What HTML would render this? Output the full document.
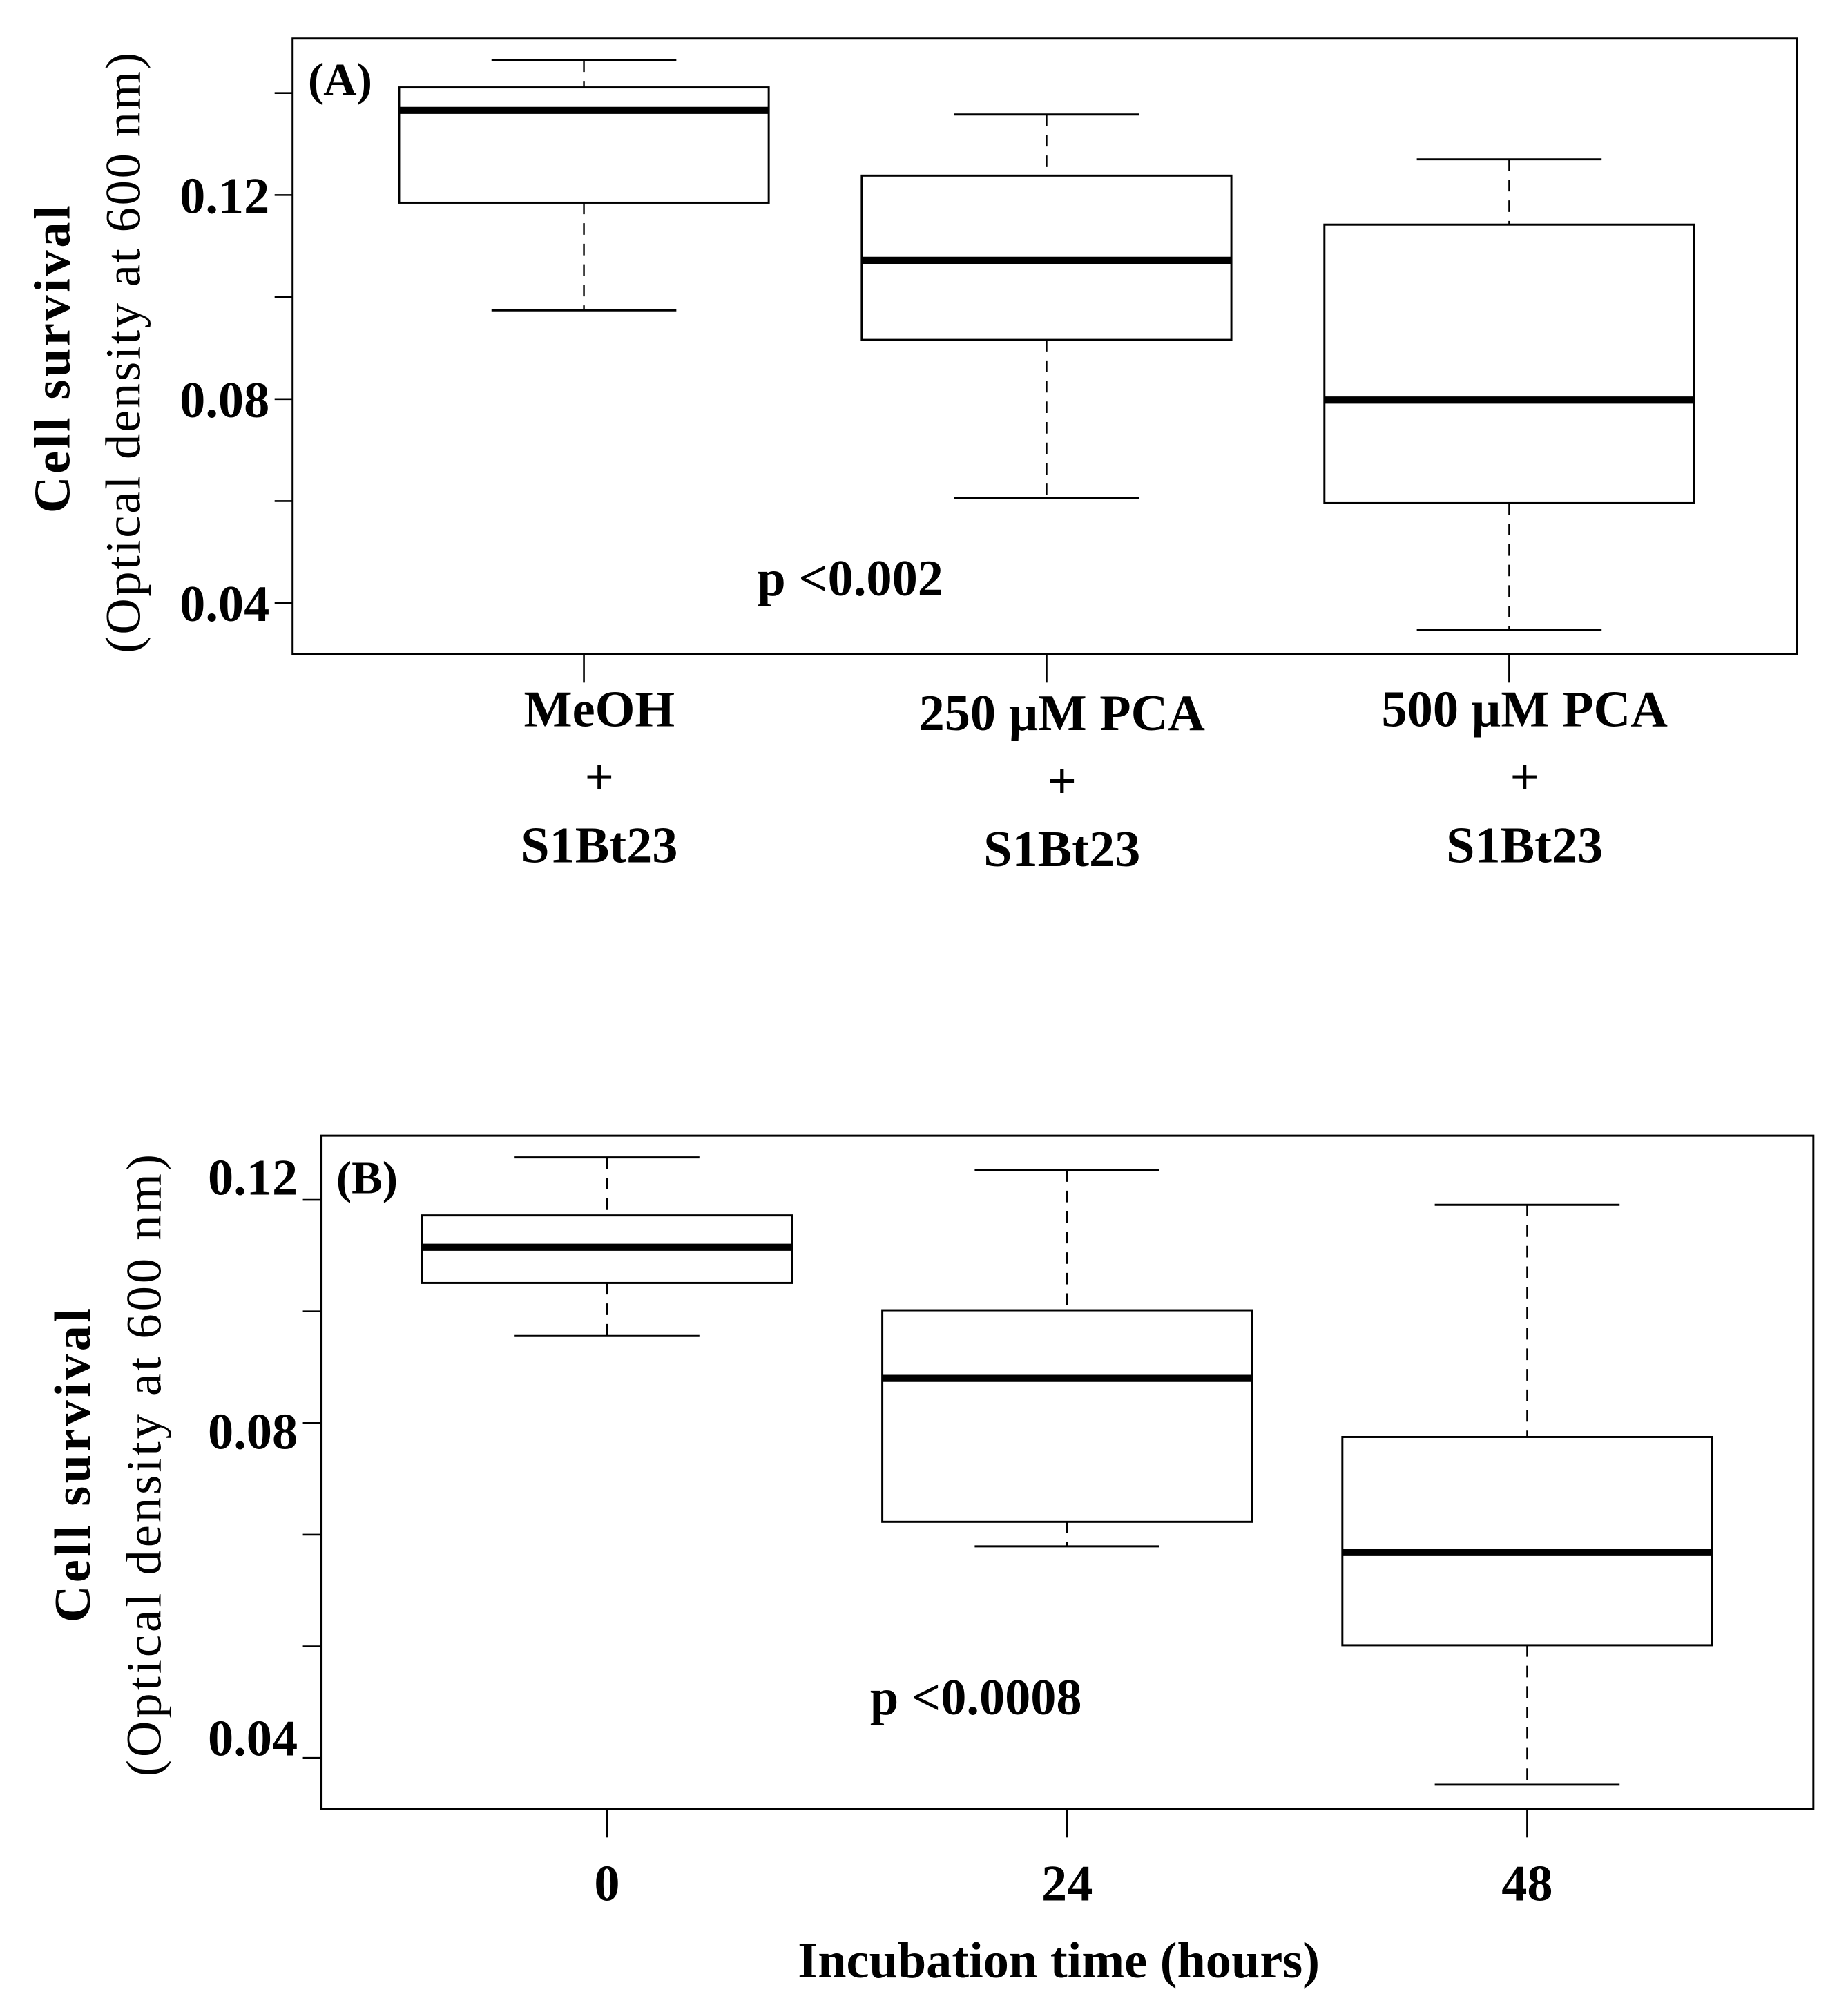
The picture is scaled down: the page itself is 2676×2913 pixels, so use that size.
<!DOCTYPE html>
<html><head><meta charset="utf-8"><style>
html,body{margin:0;padding:0;background:#fff;}
svg{display:block;}
text{font-family:"Liberation Serif",serif;fill:#000;}
</style></head><body>
<svg id="fig" width="2676" height="2913" viewBox="0 0 1440 1568" preserveAspectRatio="none">
<g id="pa"></g>
<g id="pb"></g>
</svg>
<script>
// Panel A data
const catsA = [["MeOH","+","S1Bt23"],["250 µM PCA","+","S1Bt23"],["500 µM PCA","+","S1Bt23"]];
const whiskHiA = [0.1464, 0.1358, 0.1270];
const q3A = [0.1411, 0.1238, 0.1142];
const medA = [0.1366, 0.1072, 0.0798];
const q1A = [0.1185, 0.0916, 0.0596];
const whiskLoA = [0.0974, 0.0606, 0.0347];
const tickValsA = [0.14, 0.12, 0.10, 0.08, 0.06, 0.04];
const tickLabelsA = ["", "0.12", "", "0.08", "", "0.04"];
// Panel B data
const catsB = ["0","24","48"];
const whiskHiB = [0.1276, 0.1253, 0.1191];
const q3B = [0.1172, 0.1002, 0.0775];
const medB = [0.1115, 0.0880, 0.0568];
const q1B = [0.1051, 0.0623, 0.0402];
const whiskLoB = [0.0956, 0.0579, 0.0152];
const tickValsB = [0.12, 0.10, 0.08, 0.06, 0.04, 0.02];
const tickLabelsB = ["0.12", "", "0.08", "", "", "0.04"];

const NS = "http://www.w3.org/2000/svg";
function mk(parent, tag, attrs, txt){
  const e = document.createElementNS(NS, tag);
  for (const k in attrs) e.setAttribute(k, attrs[k]);
  if (txt !== undefined) e.textContent = txt;
  parent.appendChild(e);
  return e;
}

function drawPanel(g, cfg){
  const yS = v => cfg.y0 + (cfg.v0 - v) * cfg.pxPerUnit;
  const xS = i => cfg.xs0 + i * cfg.xstep;
  const fr = mk(g, "rect", {x:cfg.L, y:cfg.T, width:cfg.R-cfg.L, height:cfg.B-cfg.T, fill:"none", stroke:"#000", "stroke-width":1.6});
  
  
  cfg.tickVals.forEach((v, i) => {
    const y = yS(v);
    const t = mk(g, "line", {x1:cfg.L-14, x2:cfg.L, y1:y, y2:y, stroke:"#000", "stroke-width":1.4});
    
    
    if (cfg.tickLabels[i]) {
      const lb = mk(g, "text", {x:cfg.L-18, y:y + cfg.labDy(i), "text-anchor":"end", "font-size":40, "font-weight":"bold"}, cfg.tickLabels[i]);
      
      
    }
  });
  for (let i = 0; i < cfg.med.length; i++) {
    const cx = xS(i);
    const bg = mk(g, "g", {});
    
    
    mk(bg, "line", {x1:cx, x2:cx, y1:yS(cfg.hi[i]), y2:yS(cfg.q3[i]), stroke:"#000", "stroke-width":1.3, "stroke-dasharray":"9,7"});
    mk(bg, "line", {x1:cx, x2:cx, y1:yS(cfg.q1[i]), y2:yS(cfg.lo[i]), stroke:"#000", "stroke-width":1.3, "stroke-dasharray":"9,7"});
    mk(bg, "line", {x1:cx-72, x2:cx+72, y1:yS(cfg.hi[i]), y2:yS(cfg.hi[i]), stroke:"#000", "stroke-width":1.6});
    mk(bg, "line", {x1:cx-72, x2:cx+72, y1:yS(cfg.lo[i]), y2:yS(cfg.lo[i]), stroke:"#000", "stroke-width":1.6});
    mk(bg, "rect", {x:cx-144, y:yS(cfg.q3[i]), width:288, height:yS(cfg.q1[i])-yS(cfg.q3[i]), fill:"#fff", stroke:"#000", "stroke-width":1.6});
    mk(bg, "line", {x1:cx-144, x2:cx+144, y1:yS(cfg.med[i]), y2:yS(cfg.med[i]), stroke:"#000", "stroke-width":5.5});
    const xt = mk(g, "line", {x1:cx, x2:cx, y1:cfg.B, y2:cfg.B+22, stroke:"#000", "stroke-width":1.4});
    
    
  }
}

const pa = document.getElementById("pa");
drawPanel(pa, {L:228, R:1400, T:30, B:510, y0:152, v0:0.12, pxPerUnit:3975, xs0:455, xstep:360.5,
  tickVals:tickValsA, tickLabels:tickLabelsA, labDy:()=>14,
  hi:whiskHiA, q3:q3A, med:medA, q1:q1A, lo:whiskLoA});
catsA.forEach((lines, i) => {
  const cx = 455 + i * 360.5 + 12;
  const off = i === 1 ? 3 : 0;
  lines.forEach((s, j) => {
    const t = mk(pa, "text", {x:cx, y:566 + j*53 + off, "text-anchor":"middle", "font-size":40, "font-weight":"bold"}, s);
    
    
  });
});
let t;
t = mk(pa, "text", {x:240, y:74, "font-size":36, "font-weight":"bold"}, "(A)");
 
t = mk(pa, "text", {x:590, y:464, "font-size":40, "font-weight":"bold"}, "p <0.002");
 
t = mk(pa, "text", {x:0, y:0, transform:"translate(54,280) rotate(-90)", "text-anchor":"middle", "font-size":40, "font-weight":"bold", textLength:240, lengthAdjust:"spacing"}, "Cell survival");
 
t = mk(pa, "text", {x:0, y:0, transform:"translate(109,275) rotate(-90)", "text-anchor":"middle", "font-size":39, textLength:468, lengthAdjust:"spacing"}, "(Optical density at 600 nm)");
 

const pb = document.getElementById("pb");
drawPanel(pb, {L:250, R:1413, T:885, B:1410, y0:935, v0:0.12, pxPerUnit:4350, xs0:473, xstep:358.5,
  tickVals:tickValsB, tickLabels:tickLabelsB, labDy:i=>[-4,0,20,0,0,-2][i],
  hi:whiskHiB, q3:q3B, med:medB, q1:q1B, lo:whiskLoB});
catsB.forEach((s, i) => {
  const tt = mk(pb, "text", {x:473 + i*358.5, y:1481, "text-anchor":"middle", "font-size":40, "font-weight":"bold"}, s);
  
  
});
t = mk(pb, "text", {x:825, y:1541, "text-anchor":"middle", "font-size":40, "font-weight":"bold"}, "Incubation time (hours)");
 
t = mk(pb, "text", {x:262, y:930, "font-size":36, "font-weight":"bold"}, "(B)");
 
t = mk(pb, "text", {x:678, y:1336, "font-size":40, "font-weight":"bold"}, "p <0.0008");
 
t = mk(pb, "text", {x:0, y:0, transform:"translate(70,1142) rotate(-90)", "text-anchor":"middle", "font-size":40, "font-weight":"bold", textLength:245, lengthAdjust:"spacing"}, "Cell survival");
 
t = mk(pb, "text", {x:0, y:0, transform:"translate(125,1142) rotate(-90)", "text-anchor":"middle", "font-size":39, textLength:485, lengthAdjust:"spacing"}, "(Optical density at 600 nm)");
 
</script>
</body></html>
